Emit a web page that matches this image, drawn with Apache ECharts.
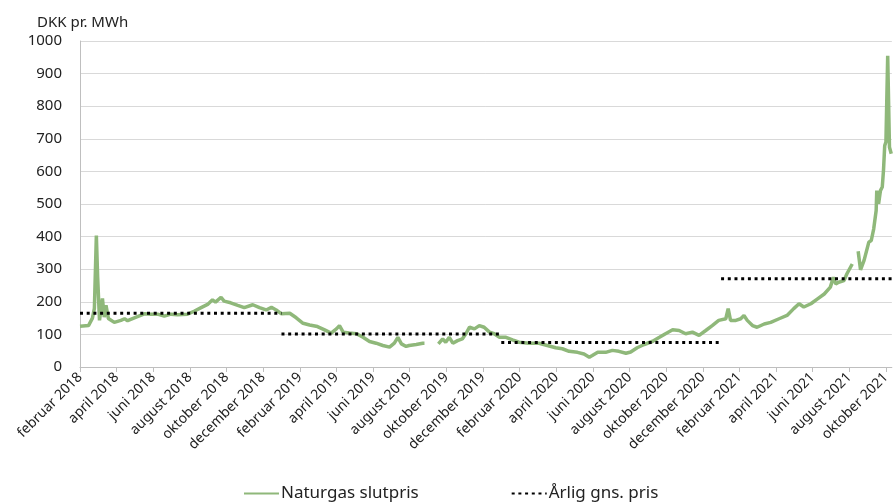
<!DOCTYPE html>
<html>
<head>
<meta charset="utf-8">
<script src="https://cdn.jsdelivr.net/npm/echarts@6/dist/echarts.min.js"></script>
<style>
  html, body { margin: 0; padding: 0; background: #fff; }
  #chart { width: 893px; height: 503px; }
</style>
</head>
<body>
<div id="chart"></div>
<script>
  // x axis labels, one per two months starting februar 2018
  const tickLabels = [
    'februar 2018', 'april 2018', 'juni 2018', 'august 2018', 'oktober 2018', 'december 2018',
    'februar 2019', 'april 2019', 'juni 2019', 'august 2019', 'oktober 2019', 'december 2019',
    'februar 2020', 'april 2020', 'juni 2020', 'august 2020', 'oktober 2020', 'december 2020',
    'februar 2021', 'april 2021', 'juni 2021', 'august 2021', 'oktober 2021'
  ];

  // Naturgas slutpris (DKK pr. MWh), null = no data
  const gasDates = [
    '2018-02-01', '2018-02-14', '2018-02-20', '2018-02-23', '2018-02-26', '2018-02-28', '2018-03-03',
    '2018-03-08', '2018-03-11', '2018-03-14', '2018-03-18', '2018-03-28', '2018-04-08', '2018-04-14',
    '2018-04-19', '2018-04-30', '2018-05-17', '2018-05-28', '2018-06-08', '2018-06-19', '2018-06-30',
    '2018-07-11', '2018-07-28', '2018-08-08', '2018-08-20', '2018-08-31', '2018-09-08', '2018-09-13',
    '2018-09-22', '2018-09-27', '2018-10-08', '2018-10-20', '2018-10-31', '2018-11-03', '2018-11-14',
    '2018-11-25', '2018-12-06', '2018-12-15', '2018-12-23', '2019-01-01', '2019-01-15', '2019-01-26',
    '2019-02-06', '2019-02-16', '2019-02-28', '2019-03-12', '2019-03-23', '2019-04-01', '2019-04-06',
    '2019-04-12', '2019-04-22', '2019-05-04', '2019-05-15', '2019-05-26', '2019-06-06', '2019-06-17',
    '2019-06-28', '2019-07-06', '2019-07-12', '2019-07-18', '2019-07-26', '2019-07-31', '2019-08-12',
    '2019-08-23', '2019-08-26', '2019-09-05', '2019-09-18', '2019-09-25', '2019-09-30', '2019-10-06',
    '2019-10-12', '2019-10-20', '2019-10-28', '2019-11-03', '2019-11-09', '2019-11-17', '2019-11-25',
    '2019-12-03', '2019-12-12', '2019-12-20', '2019-12-29', '2020-01-09', '2020-01-20', '2020-01-31',
    '2020-02-16', '2020-03-03', '2020-03-17', '2020-03-31', '2020-04-11', '2020-04-22', '2020-05-06',
    '2020-05-17', '2020-05-26', '2020-05-31', '2020-06-09', '2020-06-22', '2020-07-03', '2020-07-14',
    '2020-07-26', '2020-08-03', '2020-08-14', '2020-08-26', '2020-09-09', '2020-09-20', '2020-09-30',
    '2020-10-12', '2020-10-23', '2020-11-03', '2020-11-14', '2020-11-25', '2020-12-06', '2020-12-17',
    '2020-12-28', '2021-01-09', '2021-01-13', '2021-01-17', '2021-01-26', '2021-02-03', '2021-02-08',
    '2021-02-13', '2021-02-21', '2021-02-28', '2021-03-12', '2021-03-23', '2021-04-06', '2021-04-19',
    '2021-04-30', '2021-05-09', '2021-05-17', '2021-05-29', '2021-06-09', '2021-06-20', '2021-06-30',
    '2021-07-05', '2021-07-09', '2021-07-14', '2021-07-23', '2021-07-28', '2021-08-06', '2021-08-11',
    '2021-08-16', '2021-08-20', '2021-08-26', '2021-09-03', '2021-09-07', '2021-09-11', '2021-09-15',
    '2021-09-16', '2021-09-19', '2021-09-22', '2021-09-25', '2021-09-27', '2021-09-29', '2021-10-01',
    '2021-10-04', '2021-10-07', '2021-10-10'
  ];
  const gasValues = [
    125, 127, 150, 180, 403, 275, 143,
    210, 153, 189, 149, 137, 143, 148,
    142, 151, 163, 162, 162, 156, 162,
    160, 162, 171, 182, 192, 206, 199,
    214, 202, 197, 189, 182, 179, 191,
    182, 175, 183, 175, 163, 165, 151,
    134, 129, 124, 114, 104, 117, 127,
    107, 104, 102, 91, 78, 73, 66,
    61, 73, 91, 71, 63, 66, 69,
    73, 73, null, 71, 86, 76, 91,
    73, 81, 86, 102, 122, 117, 127,
    122, 107, 102, 91, 91, 83, 76,
    73, 73, 66, 59, 56, 48, 45,
    40, 30, 35, 45, 45, 51, 48,
    42, 46, 59, 69, 79, 91, 102,
    114, 112, 102, 107, 97, 112, 127,
    143, 148, 179, 143, 143, 148, 158,
    143, 127, 122, 132, 137, 148, 158,
    179, 194, 184, 194, 209, 224, 245,
    275, 255, 260, 265, 286, 316, null,
    355, 298, 327, 383, 388, 424, 480,
    541, 501, 541, 552, 603, 679, 690,
    955, 674, 654
  ];

  // Årlig gns. pris
  const avgStarts = ['2018-02-01', '2019-01-01', '2020-01-01', '2021-01-01'];
  const avgEnds = ['2019-01-01', '2020-01-01', '2021-01-01', '2021-10-11'];
  const avgValues = [165, 101, 75, 271];

  const axisStart = '2018-02-01';
  const axisEnd = '2021-10-11';

  // months since februar 2018, fractional
  const toMonth = (s) => {
    const [y, m, d] = s.split('-').map(Number);
    const days = new Date(y, m, 0).getDate();
    return (y - 2018) * 12 + (m - 2) + (d - 1) / days;
  };

  const green = '#8fb87a';
  const font = 'Noto Sans';

  const gasData = gasDates.map((d, i) => [toMonth(d), gasValues[i] === null ? '-' : gasValues[i]]);

  const avgSeries = avgValues.map((v, i) => ({
    name: 'Årlig gns. pris',
    type: 'line',
    symbol: 'none',
    silent: true,
    color: '#000',
    lineStyle: { color: '#000', width: 3, type: [3, 3.7], cap: 'butt' },
    data: [[toMonth(avgStarts[i]), v], [toMonth(avgEnds[i]), v]],
    z: 3,
  }));

  const chart = echarts.init(document.getElementById('chart'));
  chart.setOption({
    animation: false,
    textStyle: { fontFamily: font },
    title: {
      text: 'DKK pr. MWh',
      left: 32,
      top: 10,
      textStyle: { fontFamily: font, fontSize: 15, fontWeight: 'normal', color: '#222' },
    },
    grid: { left: 80, right: 0, top: 41, bottom: 136, containLabel: false },
    legend: {
      data: ['Naturgas slutpris', 'Årlig gns. pris'],
      left: 238,
      top: 480,
      itemGap: 92,
      itemWidth: 35,
      itemHeight: 14,
      itemStyle: { opacity: 0 },
      textStyle: { fontFamily: font, fontSize: 17, color: '#222', padding: [0, 0, 0, -3] },
    },
    xAxis: {
      type: 'value',
      min: toMonth(axisStart),
      max: toMonth(axisEnd),
      interval: 2,
      axisLine: { show: true, lineStyle: { color: '#bfbfbf' } },
      axisTick: { show: true, length: 5, lineStyle: { color: '#bfbfbf' } },
      splitLine: { show: false },
      axisLabel: {
        rotate: 45,
        margin: 8,
        fontSize: 14,
        color: '#222',
        showMaxLabel: false,
        formatter: (val) => {
          const i = Math.round(val / 2);
          return Math.abs(val - i * 2) < 1e-6 && tickLabels[i] ? tickLabels[i] : '';
        },
      },
    },
    yAxis: {
      type: 'value',
      min: 0,
      max: 1000,
      interval: 100,
      axisLine: { show: true, lineStyle: { color: '#bfbfbf' } },
      axisTick: { show: false },
      splitLine: { lineStyle: { color: '#d9d9d9', width: 1 } },
      axisLabel: { fontSize: 15, color: '#222', margin: 18, formatter: (v) => String(v) },
    },
    series: [
      {
        name: 'Naturgas slutpris',
        type: 'line',
        symbol: 'none',
        color: green,
        lineStyle: { color: green, width: 3.5 },
        connectNulls: false,
        data: gasData,
        z: 2,
      },
      ...avgSeries,
    ],
  });
</script>
</body>
</html>
